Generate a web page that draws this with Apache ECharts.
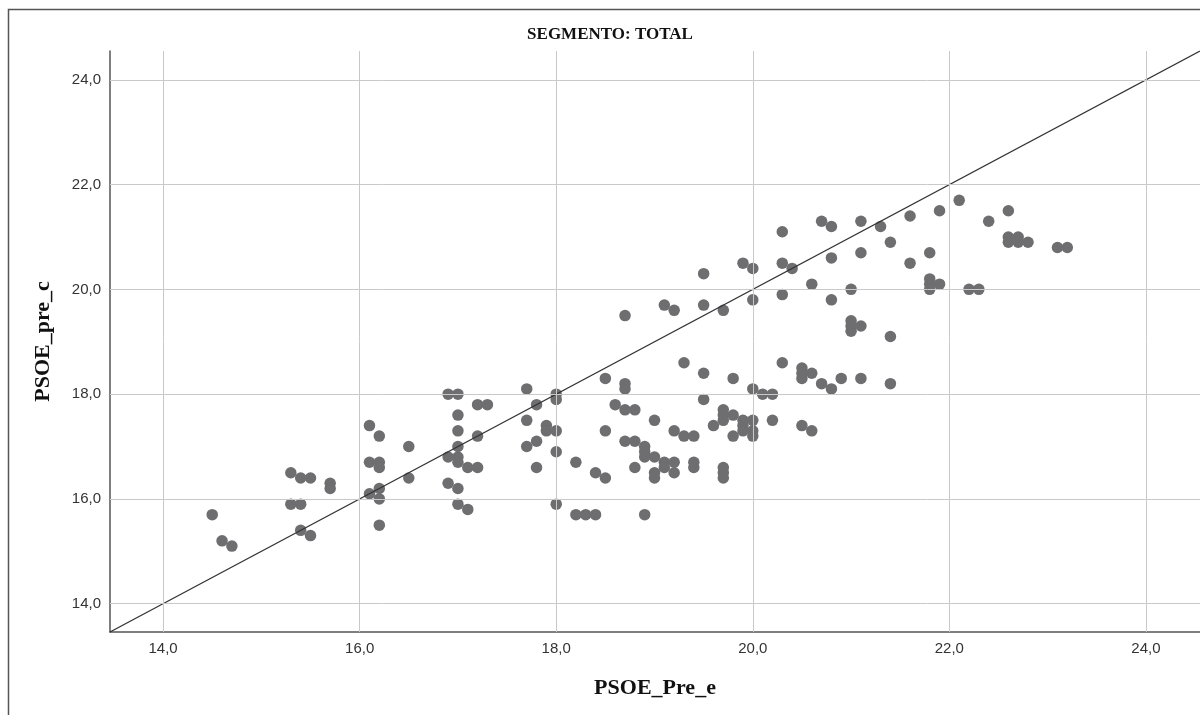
<!DOCTYPE html>
<html><head><meta charset="utf-8">
<script src="https://cdn.jsdelivr.net/npm/echarts@6/dist/echarts.min.js"></script>
<style>html,body{margin:0;padding:0;background:#fff}#c{width:1200px;height:715px}</style>
</head><body><div id="c"></div><script>
const chartTitle = 'SEGMENTO: TOTAL';
const xName = 'PSOE_Pre_e';
const yName = 'PSOE_pre_c';
const xTicks = [14, 16, 18, 20, 22, 24];
const yTicks = [14, 16, 18, 20, 22, 24];
const axisMin = 13.46, axisMax = 24.55;
const xValues = [
14.5,14.6,14.7,15.3,15.4,15.5,15.3,15.4,15.4,15.5,15.7,15.7,16.1,16.2,16.1,16.2,16.2,16.1,16.2,16.2,
16.2,16.5,16.5,16.9,17.0,17.2,17.3,17.0,17.0,17.2,17.0,16.9,17.0,17.0,17.1,17.2,16.9,17.0,17.0,17.1,
17.7,18.0,18.0,17.8,17.7,17.9,17.9,18.0,17.8,17.7,18.0,17.8,18.0,18.2,18.2,18.3,18.4,18.5,18.7,18.7,
18.6,18.7,18.8,19.0,18.5,18.7,18.8,18.9,18.9,18.9,19.0,19.2,18.4,18.5,18.8,19.0,19.0,19.1,19.1,19.2,
19.2,18.9,19.5,19.9,20.0,20.3,20.4,20.8,21.1,21.4,19.1,19.2,19.5,19.7,20.0,20.3,20.6,21.0,20.8,18.7,
21.0,21.0,21.0,21.1,21.4,19.3,19.5,20.3,20.5,20.5,20.5,20.6,20.7,20.8,20.9,21.1,21.4,19.8,20.0,20.1,
20.2,19.5,19.3,19.4,19.4,19.4,19.6,19.7,19.7,19.7,19.8,19.8,19.9,19.9,19.9,20.0,20.0,20.0,20.2,20.5,
20.6,19.7,19.7,19.7,21.1,21.3,21.6,21.9,22.1,22.4,22.6,22.6,22.6,22.7,22.7,22.8,23.1,23.2,21.6,21.8,
21.8,21.8,21.8,21.9,22.2,22.3,20.3,20.7,20.8
];
const yValues = [
15.7,15.2,15.1,16.5,16.4,16.4,15.9,15.9,15.4,15.3,16.3,16.2,17.4,17.2,16.7,16.7,16.6,16.1,16.2,16.0,
15.5,17.0,16.4,18.0,18.0,17.8,17.8,17.6,17.3,17.2,17.0,16.8,16.8,16.7,16.6,16.6,16.3,16.2,15.9,15.8,
18.1,18.0,17.9,17.8,17.5,17.4,17.3,17.3,17.1,17.0,16.9,16.6,15.9,16.7,15.7,15.7,15.7,18.3,18.2,18.1,
17.8,17.7,17.7,17.5,17.3,17.1,17.1,17.0,16.9,16.8,16.8,17.3,16.5,16.4,16.6,16.5,16.4,16.7,16.6,16.7,
16.5,15.7,20.3,20.5,20.4,20.5,20.4,20.6,20.7,20.9,19.7,19.6,19.7,19.6,19.8,19.9,20.1,20.0,19.8,19.5,
19.4,19.3,19.2,19.3,19.1,18.6,18.4,18.6,18.5,18.4,18.3,18.4,18.2,18.1,18.3,18.3,18.2,18.3,18.1,18.0,
18.0,17.9,17.2,17.2,16.7,16.6,17.4,17.7,17.6,17.5,17.6,17.2,17.5,17.4,17.3,17.5,17.3,17.2,17.5,17.4,
17.3,16.6,16.5,16.4,21.3,21.2,21.4,21.5,21.7,21.3,21.5,21.0,20.9,21.0,20.9,20.9,20.8,20.8,20.5,20.7,
20.2,20.1,20.0,20.1,20.0,20.0,21.1,21.3,21.2
];
const points = xValues.map((x, i) => [x, yValues[i]]);
const fmt = v => v.toFixed(1).replace('.', ',');
const serif = '"Liberation Serif", "DejaVu Serif", serif';
const labelFont = '"Liberation Sans", "DejaVu Sans", sans-serif';
const chart = echarts.init(document.getElementById('c'));
chart.setOption({
  animation: false,
  backgroundColor: '#fff',
  grid: { left: 110, right: 0, top: 51, bottom: 83, containLabel: false },
  graphic: [
    { type: 'rect', shape: { x: 8.5, y: 9.5, width: 1210, height: 720 }, style: { fill: 'none', stroke: '#555', lineWidth: 1.5 }, z: -10 },
    { type: 'text', x: 610, y: 35, style: { text: chartTitle, font: 'bold 17px ' + serif, fill: '#111', textAlign: 'center', textVerticalAlign: 'middle' } }
  ],
  xAxis: {
    type: 'value', min: axisMin, max: axisMax,
    name: xName, nameLocation: 'middle', nameGap: 45,
    nameTextStyle: { fontFamily: serif, fontWeight: 'bold', fontSize: 22, color: '#111' },
    axisLine: { show: true, lineStyle: { color: '#555', width: 1.5 } },
    axisTick: { show: false },
    splitLine: { show: false },
    axisLabel: { customValues: xTicks, formatter: fmt, color: '#333', fontFamily: labelFont, fontSize: 15, margin: 9 }
  },
  yAxis: {
    type: 'value', min: axisMin, max: axisMax,
    name: yName, nameLocation: 'middle', nameGap: 56, nameRotate: 90,
    nameTextStyle: { fontFamily: serif, fontWeight: 'bold', fontSize: 22, color: '#111' },
    axisLine: { show: true, lineStyle: { color: '#555', width: 1.5 } },
    axisTick: { show: false },
    splitLine: { show: false },
    axisLabel: { customValues: yTicks, formatter: fmt, color: '#333', fontFamily: labelFont, fontSize: 15, margin: 9 }
  },
  series: [
    {
      type: 'line', z: 1, silent: true, showSymbol: false,
      data: [[axisMin, axisMin], [axisMax, axisMax]],
      lineStyle: { width: 0, opacity: 0 },
      markLine: {
        silent: true, symbol: 'none', animation: false,
        label: { show: false },
        lineStyle: { color: '#c9c9c9', width: 1, type: 'solid' },
        data: xTicks.map(v => ({ xAxis: v })).concat(yTicks.map(v => ({ yAxis: v })))
      }
    },
    {
      type: 'scatter', z: 3, data: points, symbol: 'circle', symbolSize: 11.5,
      itemStyle: { color: '#6e6e71', opacity: 1 }
    },
    {
      type: 'line', z: 4, silent: true, showSymbol: false,
      data: [[axisMin, axisMin], [axisMax, axisMax]],
      lineStyle: { color: '#333', width: 1.3 }
    }
  ]
});
</script></body></html>
